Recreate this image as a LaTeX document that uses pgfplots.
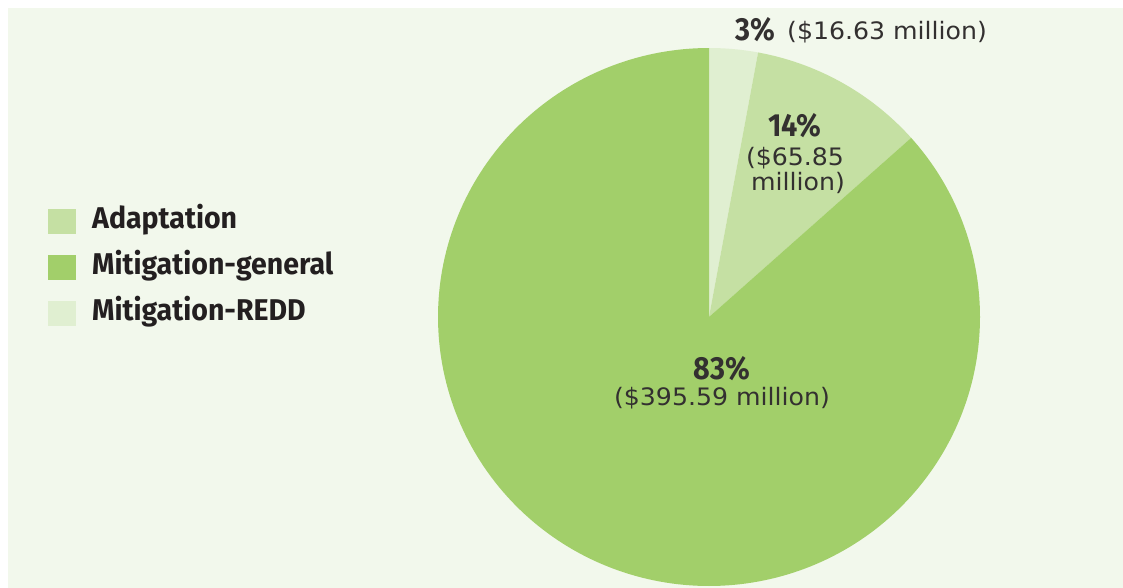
\documentclass[border=0pt]{standalone}
\usepackage{pgfplots}
\pgfplotsset{compat=1.18}
\usepackage{pgfplotstable}
\usepackage{fontspec}
\setmainfont{DejaVu Sans}
\newfontfamily\legfont[FakeStretch=0.95]{Fira Sans}
\newfontfamily\pctfam[FakeStretch=0.9]{Fira Sans}
\newfontfamily\labfont[FakeStretch=1.05]{DejaVu Sans}
\definecolor{bgc}{RGB}{242,248,236}
\definecolor{cgen}{RGB}{162,207,106}
\definecolor{cada}{RGB}{197,224,163}
\definecolor{credd}{RGB}{224,239,209}
\definecolor{legtext}{RGB}{35,31,32}
\definecolor{labtext}{RGB}{51,48,48}

% drawn share of the circle and labelled values
\pgfplotstableread{
slice share value pct
REDD 2.9 16.63 3
Adaptation 10.5 65.85 14
General 86.6 395.59 83
}\piedata
\pgfplotstablegetelem{0}{share}\of\piedata \let\sA\pgfplotsretval
\pgfplotstablegetelem{1}{share}\of\piedata \let\sB\pgfplotsretval
\pgfmathsetmacro\aA{3.6*\sA}
\pgfmathsetmacro\aB{\aA+3.6*\sB}

\begin{document}
\begin{tikzpicture}
\begin{axis}[
  width=1123pt, height=588pt, scale only axis,
  xmin=0, xmax=1123, ymin=0, ymax=588, y dir=reverse,
  hide axis, clip=false,
  legend image code/.code={\fill[#1] (0pt,-12.5pt) rectangle (28pt,12.5pt);},
  legend style={at={(0.04274,0.6463)}, anchor=north west, draw=none, fill=none,
    inner sep=0pt, nodes={inner sep=0pt, text height=20pt, text depth=6pt},
    row sep=20pt, column sep=16pt,
    font=\legfont\bfseries\fontsize{30}{34}\selectfont, text=legtext},
  legend cell align=left,
]
\fill[white] (axis cs:0,0) rectangle (axis cs:1123,588);
\fill[bgc] (axis cs:8,8) rectangle (axis cs:1123,588);

\addplot[forget plot, fill=credd, draw=none, domain=0:\aA, samples=20]
  ({709+271*sin(x)},{317-269*cos(x)}) -- (axis cs:709,317) -- cycle;
\addplot[forget plot, fill=cada, draw=none, domain=\aA:\aB, samples=40]
  ({709+271*sin(x)},{317-269*cos(x)}) -- (axis cs:709,317) -- cycle;
\addplot[forget plot, fill=cgen, draw=none, domain=\aB:360, samples=240]
  ({709+271*sin(x)},{317-269*cos(x)}) -- (axis cs:709,317) -- cycle;

\addlegendimage{fill=cada, draw=none}
\addlegendentry{Adaptation}
\addlegendimage{fill=cgen, draw=none}
\addlegendentry{Mitigation-general}
\addlegendimage{fill=credd, draw=none}
\addlegendentry{Mitigation-REDD}

\def\pctfont{\pctfam\bfseries\fontsize{32}{36}\selectfont\color{labtext}}
\def\lfont{\labfont\fontsize{24}{25}\selectfont\color{labtext}}
\node[anchor=base west, inner sep=0pt] at (axis cs:735,41) {\pctfont 3\%};
\node[anchor=base west, inner sep=0pt] at (axis cs:787,40) {\lfont (\$16.63 million)};
\node[anchor=base, inner sep=0pt] at (axis cs:795,137) {\pctfont 14\%};
\node[anchor=base, inner sep=0pt] at (axis cs:795,165) {\lfont (\$65.85};
\node[anchor=base, inner sep=0pt] at (axis cs:798,190) {\lfont million)};
\node[anchor=base, inner sep=0pt] at (axis cs:722,379) {\pctfont 83\%};
\node[anchor=base, inner sep=0pt] at (axis cs:722,405) {\lfont (\$395.59 million)};
\end{axis}
\end{tikzpicture}
\end{document}
